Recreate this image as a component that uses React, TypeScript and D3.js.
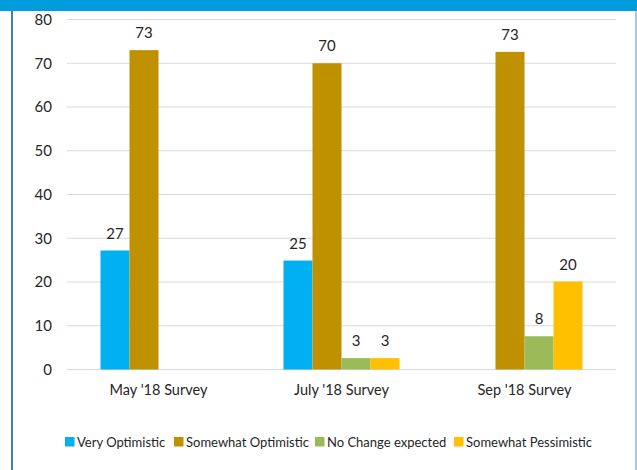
import React from "react";
import * as d3 from "d3";

const categories = ["May '18 Survey", "July '18 Survey", "Sep '18 Survey"];
const seriesNames = ["Very Optimistic", "Somewhat Optimistic", "No Change expected", "Somewhat Pessimistic"];
const seriesColors = ["#00B0F0", "#BF9000", "#9BBB59", "#FFC000"];
const veryOptimistic: (number | null)[] = [27.2, 24.9, null];
const somewhatOptimistic: (number | null)[] = [73, 70, 72.6];
const noChange: (number | null)[] = [null, 2.6, 7.6];
const somewhatPessimistic: (number | null)[] = [null, 2.6, 20.1];
const yTicks = [0, 10, 20, 30, 40, 50, 60, 70, 80];

const seriesValues = [veryOptimistic, somewhatOptimistic, noChange, somewhatPessimistic];

const W = 637;
const H = 470;
const FONT = "Lato, 'Open Sans', sans-serif";

export default function App() {
  const x0 = d3.scaleBand<string>().domain(categories).range([67, 616]).paddingInner(0.366).paddingOuter(0.183);
  const x1 = d3
    .scaleBand<string>()
    .domain(seriesNames)
    .range([0, x0.bandwidth()]);
  const y = d3.scaleLinear().domain([0, 80]).range([369.5, 19.5]);
  const fmt = d3.format(".0f");
  const legendX = [65, 174, 315, 454];

  return (
    <svg width={W} height={H} style={{ position: "absolute", left: 0, top: 0, background: "#fff" }} fontFamily={FONT}>
      <rect x={0} y={0} width={W} height={H} fill="#fff" />
      <rect x={0} y={0} width={W} height={11} fill="#009CDC" />
      <line x1={12} x2={12} y1={11} y2={H} stroke="#3F7FC6" strokeWidth={2} />
      <line x1={636} x2={636} y1={11} y2={H} stroke="#8DB7E2" strokeWidth={1.5} />
      {yTicks.map((t) => (
        <g key={t}>
          <line x1={67} x2={616} y1={y(t)} y2={y(t)} stroke="#D9D9D9" strokeWidth={1} />
          <text x={52} y={y(t)} dy="0.35em" textAnchor="end" fontSize={15} fill="#262626">
            {t}
          </text>
        </g>
      ))}
      {categories.map((c, ci) => (
        <g key={c} transform={`translate(${x0(c)},0)`}>
          {seriesNames.map((s, si) => {
            const v = seriesValues[si][ci];
            if (v == null) return null;
            const bx = x1(s)!;
            return (
              <g key={s}>
                <rect x={bx} y={y(v)} width={x1.bandwidth()} height={y(0) - y(v)} fill={seriesColors[si]} />
                <text
                  x={bx + x1.bandwidth() / 2}
                  y={y(v) - 12}
                  textAnchor="middle"
                  fontSize={15}
                  fill="#262626"
                >
                  {fmt(v)}
                </text>
              </g>
            );
          })}
          <text x={x0.bandwidth() / 2} y={395} textAnchor="middle" fontSize={14.5} fill="#262626">
            {c}
          </text>
        </g>
      ))}
      {seriesNames.map((s, si) => (
        <g key={s} transform={`translate(${legendX[si]},0)`}>
          <rect x={0} y={437} width={9.5} height={9.5} fill={seriesColors[si]} />
          <text x={12} y={446.5} fontSize={13} fill="#262626">
            {s}
          </text>
        </g>
      ))}
    </svg>
  );
}
